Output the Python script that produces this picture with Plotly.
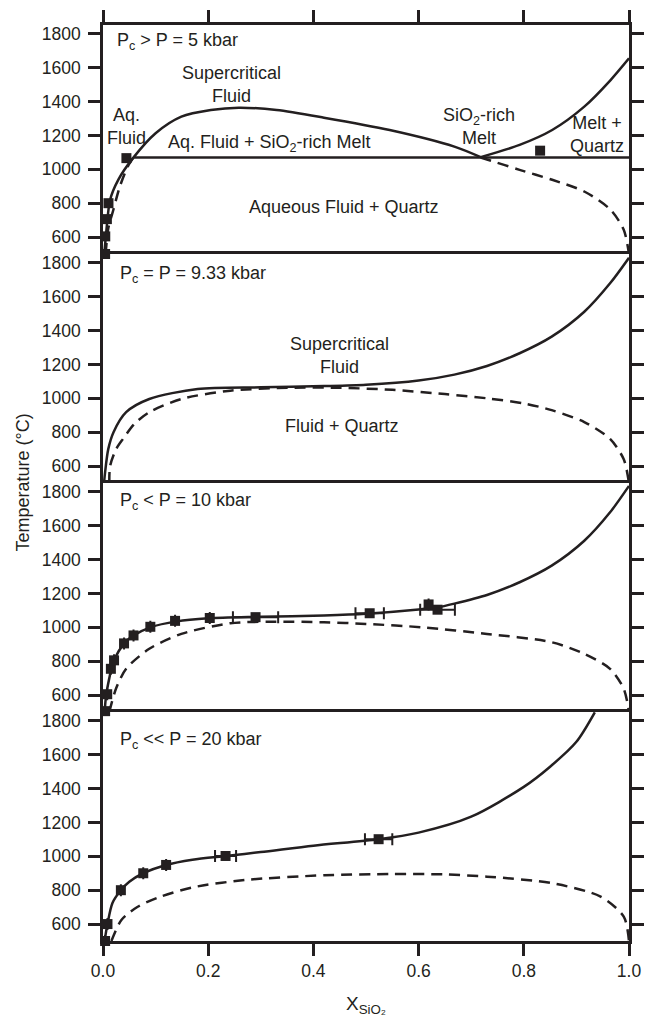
import plotly.graph_objects as go
from plotly.subplots import make_subplots

INK = "#231f20"
FONT = "Liberation Sans, Arial, sans-serif"

# ---------------- Panel 1: Pc > P = 5 kbar ----------------
p1_solid_a_x = [0.0025, 0.006, 0.0135, 0.029, 0.057, 0.1, 0.149, 0.205, 0.258, 0.33, 0.42, 0.545, 0.668, 0.718]
p1_solid_a_t = [500, 623, 820, 938, 1066, 1213, 1311, 1350, 1364, 1350, 1305, 1232, 1134, 1072]
p1_solid_b_x = [0.718, 0.792, 0.854, 0.915, 0.965, 1.0]
p1_solid_b_t = [1072, 1144, 1232, 1370, 1527, 1655]
p1_hline_x = [0.057, 1.0]
p1_hline_t = [1070, 1070]
p1_dash_a_x = [0.005, 0.01, 0.0196, 0.032, 0.047, 0.057]
p1_dash_a_t = [500, 650, 760, 898, 1016, 1066]
p1_dash_b_x = [0.718, 0.73, 0.792, 0.854, 0.915, 0.965, 0.99, 1.0]
p1_dash_b_t = [1070, 1058, 997, 938, 869, 761, 643, 500]
p1_pts_x = [0.004, 0.0043, 0.0074, 0.0104, 0.0445, 0.831]
p1_pts_t = [500, 604, 706, 800, 1066, 1110]

# ---------------- Panel 2: Pc = P = 9.33 kbar ----------------
p2_solid_x = [0.002, 0.004, 0.01, 0.02, 0.044, 0.088, 0.18, 0.3, 0.42, 0.5, 0.6, 0.668, 0.73, 0.792, 0.853, 0.915, 0.964, 1.0]
p2_solid_t = [500, 564, 700, 800, 918, 996, 1055, 1065, 1072, 1080, 1105, 1140, 1191, 1266, 1364, 1511, 1679, 1830]
p2_dash_x = [0.012, 0.0135, 0.025, 0.038, 0.06, 0.088, 0.149, 0.242, 0.35, 0.45, 0.55, 0.65, 0.73, 0.8, 0.853, 0.915, 0.964, 0.99, 1.0]
p2_dash_t = [500, 600, 700, 760, 850, 918, 996, 1045, 1062, 1062, 1050, 1025, 1000, 970, 930, 860, 760, 640, 500]

# ---------------- Panel 3: Pc < P = 10 kbar ----------------
p3_solid_x = [0.003, 0.006, 0.012, 0.018, 0.03, 0.045, 0.06, 0.09, 0.14, 0.2, 0.3, 0.42, 0.5, 0.6, 0.636, 0.668, 0.73, 0.792, 0.853, 0.915, 0.964, 1.0]
p3_solid_t = [500, 600, 700, 780, 860, 920, 955, 1000, 1035, 1053, 1062, 1070, 1080, 1105, 1118, 1140, 1191, 1266, 1364, 1511, 1679, 1835]
p3_dash_x = [0.012, 0.025, 0.044, 0.088, 0.149, 0.242, 0.32, 0.42, 0.5, 0.607, 0.73, 0.853, 0.915, 0.964, 0.99, 1.0]
p3_dash_t = [500, 640, 755, 873, 961, 1024, 1033, 1030, 1020, 1000, 961, 912, 843, 755, 637, 500]
p3_pts_x = [0.004, 0.008, 0.015, 0.021, 0.04, 0.058, 0.09, 0.137, 0.203, 0.29, 0.507, 0.619, 0.636]
p3_pts_t = [505, 605, 755, 805, 905, 952, 1003, 1038, 1055, 1060, 1083, 1135, 1104]
p3_pts_err = [0, 0, 0, 0, 0, 0, 0, 0, 0, 0.043, 0.027, 0, 0.033]

# ---------------- Panel 4: Pc << P = 20 kbar ----------------
p4_solid_x = [0.003, 0.0085, 0.018, 0.034, 0.05, 0.0765, 0.12, 0.17, 0.233, 0.3, 0.4, 0.524, 0.6, 0.7, 0.8, 0.85, 0.9, 0.935]
p4_solid_t = [500, 600, 725, 800, 850, 900, 949, 980, 1002, 1025, 1063, 1101, 1140, 1234, 1410, 1529, 1676, 1850]
p4_dash_x = [0.016, 0.035, 0.066, 0.109, 0.171, 0.27, 0.421, 0.55, 0.65, 0.73, 0.854, 0.946, 0.99, 1.0]
p4_dash_t = [500, 624, 702, 761, 817, 860, 888, 895, 893, 880, 841, 762, 644, 500]
p4_pts_x = [0.004, 0.0085, 0.034, 0.0765, 0.12, 0.233, 0.524]
p4_pts_t = [500, 600, 800, 900, 949, 1002, 1101]
p4_pts_err = [0, 0, 0, 0, 0, 0.02, 0.026]

y_ticks = [600, 800, 1000, 1200, 1400, 1600, 1800]
x_ticks = [0.0, 0.2, 0.4, 0.6, 0.8, 1.0]
x_tick_text = ["0.0", "0.2", "0.4", "0.6", "0.8", "1.0"]

fig = make_subplots(rows=4, cols=1, vertical_spacing=0)

LW = 2.5
DASH = "11px,7px"


def solid(x, t, row):
    fig.add_trace(go.Scatter(x=x, y=t, mode="lines", line=dict(color=INK, width=LW, shape="spline", smoothing=0.8),
                             showlegend=False, hoverinfo="skip"), row=row, col=1)


def dashed(x, t, row):
    fig.add_trace(go.Scatter(x=x, y=t, mode="lines", line=dict(color=INK, width=LW, dash=DASH, shape="spline", smoothing=0.8),
                             showlegend=False, hoverinfo="skip"), row=row, col=1)


def points(x, t, row, err=None):
    kw = {}
    if err is not None:
        kw["error_x"] = dict(type="data", array=err, visible=True, color=INK, thickness=2, width=6)
    fig.add_trace(go.Scatter(x=x, y=t, mode="markers", cliponaxis=False,
                             marker=dict(symbol="square", size=10, color=INK, line=dict(width=0)),
                             showlegend=False, **kw), row=row, col=1)


# panel 1
solid(p1_solid_a_x, p1_solid_a_t, 1)
solid(p1_solid_b_x, p1_solid_b_t, 1)
fig.add_trace(go.Scatter(x=p1_hline_x, y=p1_hline_t, mode="lines", line=dict(color=INK, width=LW),
                         showlegend=False), row=1, col=1)
dashed(p1_dash_a_x, p1_dash_a_t, 1)
dashed(p1_dash_b_x, p1_dash_b_t, 1)
points(p1_pts_x, p1_pts_t, 1)

# panel 2
solid(p2_solid_x, p2_solid_t, 2)
dashed(p2_dash_x, p2_dash_t, 2)

# panel 3
solid(p3_solid_x, p3_solid_t, 3)
dashed(p3_dash_x, p3_dash_t, 3)
points(p3_pts_x, p3_pts_t, 3, p3_pts_err)

# panel 4
solid(p4_solid_x, p4_solid_t, 4)
dashed(p4_dash_x, p4_dash_t, 4)
points(p4_pts_x, p4_pts_t, 4, p4_pts_err)

tickfont = dict(family=FONT, size=17.5, color=INK)
for r in range(1, 5):
    fig.update_yaxes(range=[500, 1852], tickvals=y_ticks, ticks="outside", ticklen=12, tickwidth=LW,
                     tickcolor=INK, showline=True, linecolor=INK, linewidth=LW, mirror="ticks",
                     showgrid=False, zeroline=False, tickfont=tickfont, ticklabelstandoff=4,
                     row=r, col=1)
    xkw = dict(range=[0, 1], showline=True, linecolor=INK, linewidth=LW,
               showgrid=False, zeroline=False, tickvals=x_ticks, ticktext=x_tick_text,
               tickcolor=INK, tickwidth=LW, ticklen=12, tickfont=tickfont)
    if r == 1:
        xkw.update(side="top", ticks="outside", showticklabels=False, mirror=False)
    elif r == 4:
        xkw.update(side="bottom", ticks="outside", showticklabels=True, mirror=True)
    else:
        xkw.update(side="top", ticks="", showticklabels=False, mirror=False)
    fig.update_xaxes(row=r, col=1, **xkw)

afont = dict(family=FONT, size=18, color=INK)


def ann(row, x, y, text, xanchor="center"):
    xr = "x" if row == 1 else f"x{row}"
    yr = "y" if row == 1 else f"y{row}"
    fig.add_annotation(x=x, y=y, xref=xr, yref=yr, text=text, showarrow=False, font=afont,
                       xanchor=xanchor, yanchor="middle", align="center")


ann(1, 0.023, 1753, "P<sub>c</sub> &gt; P = 5 kbar", "left")
ann(1, 0.245, 1500, "Supercritical<br>Fluid")
ann(1, 0.044, 1250, "Aq.<br>Fluid")
ann(1, 0.317, 1150, "Aq. Fluid + SiO<sub>2</sub>-rich Melt")
ann(1, 0.715, 1253, "SiO<sub>2</sub>-rich<br>Melt")
ann(1, 0.940, 1203, "Melt +<br>Quartz")
ann(1, 0.459, 780, "Aqueous Fluid + Quartz")

ann(2, 0.029, 1731, "P<sub>c</sub> = P = 9.33 kbar", "left")
ann(2, 0.449, 1250, "Supercritical<br>Fluid")
ann(2, 0.455, 837, "Fluid + Quartz")

ann(3, 0.029, 1745, "P<sub>c</sub> &lt; P = 10 kbar", "left")
ann(4, 0.029, 1686, "P<sub>c</sub> &lt;&lt; P = 20 kbar", "left")

fig.add_annotation(x=-0.153, y=0.5, xref="paper", yref="paper", text="Temperature (°C)",
                   textangle=-90, showarrow=False, font=dict(family=FONT, size=18, color=INK),
                   xanchor="center", yanchor="middle")
fig.add_annotation(x=0.5, y=-0.07, xref="paper", yref="paper", text="X<sub>SiO₂</sub>",
                   showarrow=False, font=dict(family=FONT, size=19, color=INK),
                   xanchor="center", yanchor="middle")

fig.update_layout(width=656, height=1017, margin=dict(l=103, r=14, t=25, b=76, pad=0),
                  plot_bgcolor="white", paper_bgcolor="white", showlegend=False,
                  font=dict(family=FONT, color=INK))

fig.write_html("out.html")
